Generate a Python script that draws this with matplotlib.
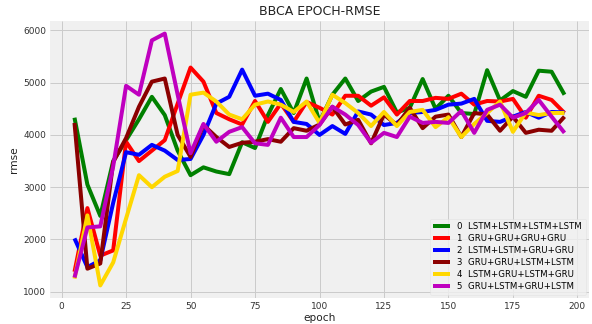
import numpy as np
import matplotlib
matplotlib.use("Agg")
import matplotlib.pyplot as plt

plt.style.use("fivethirtyeight")

epochs = list(range(5, 200, 5))

labels = ["0  LSTM+LSTM+LSTM+LSTM",
          "1  GRU+GRU+GRU+GRU",
          "2  LSTM+LSTM+GRU+GRU",
          "3  GRU+GRU+LSTM+LSTM",
          "4  LSTM+GRU+LSTM+GRU",
          "5  GRU+LSTM+GRU+LSTM"]
colors = ["g", "r", "b", "darkred", "gold", "m"]

rmse_0 = [4330, 3050, 2450, 3500, 3900, 4300, 4730, 4380, 3700, 3230, 3380, 3300, 3250,
          3860, 3750, 4380, 4880, 4420, 5080, 4250, 4770, 5080, 4650, 4830, 4920, 4430,
          4520, 5070, 4500, 4750, 4420, 4400, 5240, 4660, 4840, 4730, 5230, 5210, 4770]
rmse_1 = [1380, 2600, 1690, 1790, 3870, 3500, 3700, 3900, 4600, 5290, 5020, 4420, 4300,
          4200, 4650, 4250, 4600, 4250, 4630, 4520, 4390, 4750, 4750, 4560, 4720, 4390,
          4650, 4650, 4710, 4690, 4790, 4580, 4650, 4640, 4690, 4330, 4750, 4670, 4420]
rmse_2 = [2020, 1470, 1600, 2700, 3670, 3620, 3810, 3700, 3520, 3540, 4000, 4600, 4730,
          5250, 4750, 4790, 4670, 4250, 4210, 4000, 4170, 4020, 4450, 4390, 4190, 4230,
          4420, 4440, 4480, 4580, 4600, 4690, 4270, 4250, 4350, 4440, 4330, 4440, 4430]
rmse_3 = [4230, 1440, 1540, 3480, 3940, 4540, 5020, 5080, 4000, 3580, 4190, 3960, 3770,
          3850, 3870, 3920, 3870, 4130, 4080, 4200, 4540, 4200, 4290, 3840, 4390, 4190,
          4520, 4130, 4350, 4390, 3960, 4420, 4390, 4080, 4350, 4040, 4100, 4080, 4350]
rmse_4 = [1250, 2460, 1120, 1560, 2400, 3230, 3000, 3200, 3310, 4770, 4810, 4640, 4390,
          4300, 4580, 4640, 4580, 4440, 4640, 4230, 4770, 4610, 4420, 4170, 4440, 4170,
          4440, 4480, 4150, 4340, 3960, 4210, 4420, 4640, 4060, 4430, 4380, 4420, 4420]
rmse_5 = [1270, 2230, 2250, 3400, 4940, 4770, 5810, 5940, 4770, 3650, 4210, 3870, 4060,
          4150, 3840, 3810, 4330, 3960, 3960, 4190, 4540, 4390, 4190, 3850, 4040, 3960,
          4350, 4230, 4250, 4230, 4460, 4040, 4480, 4580, 4330, 4420, 4670, 4350, 4040]

series = [rmse_0, rmse_1, rmse_2, rmse_3, rmse_4, rmse_5]

fig = plt.figure(figsize=(592 / 72, 324 / 72), dpi=72, facecolor="white")
ax = fig.add_axes([50 / 592, 1 - 298 / 324, 539 / 592, 277 / 324])
ax.set_facecolor("#f0f0f0")

for vals, col, lab in zip(series, colors, labels):
    ax.plot(epochs, vals, color=col, linewidth=4, label=lab)

ax.set_title("BBCA EPOCH-RMSE", fontsize=12.5, color="#222222")
ax.set_xlabel("epoch", fontsize=10.5, labelpad=2, color="#222222")
ax.set_ylabel("rmse", fontsize=10.5, labelpad=4, color="#222222")
ax.set_xticks([0, 25, 50, 75, 100, 125, 150, 175, 200])
ax.set_yticks([1000, 2000, 3000, 4000, 5000, 6000])
ax.tick_params(labelsize=9, colors="#333333", pad=4)
ax.grid(color="#cbcbcb", linewidth=1)
for s in ax.spines.values():
    s.set_visible(False)

leg = ax.legend(loc="lower right", fontsize=8.6, frameon=True,
                facecolor="#f0f0f0", edgecolor="#dddddd", framealpha=0.8,
                borderaxespad=0.4, handlelength=2, labelspacing=0.35)

fig.savefig("out.png", dpi=72, facecolor="white")
